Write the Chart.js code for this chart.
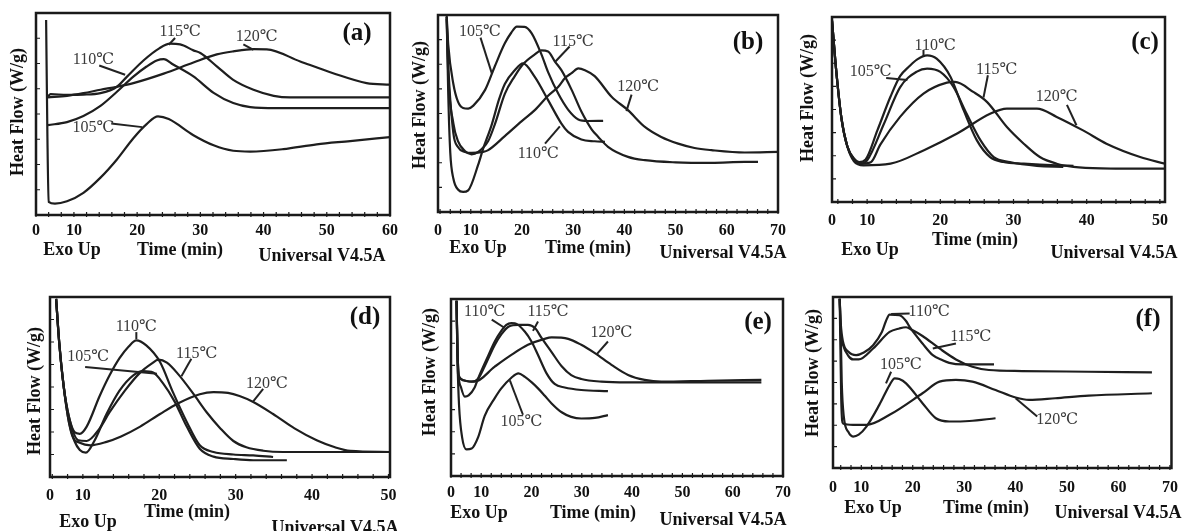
<!DOCTYPE html>
<html><head><meta charset="utf-8">
<script src="https://cdn.jsdelivr.net/npm/chart.js@4.4.1/dist/chart.umd.min.js"></script>
<style>
html,body{margin:0;padding:0;background:#fff;}
#wrap{position:relative;width:1188px;height:531px;overflow:hidden;background:#fff;}
#wrap canvas{position:absolute;left:0;top:0;}
</style></head><body><div id="wrap"></div>
<script>
// ---------- tick labels ----------
const ticks50 = [0,10,20,30,40,50];
const ticks60 = [0,10,20,30,40,50,60];
const ticks70 = [0,10,20,30,40,50,60,70];
const temps = ['105℃','110℃','115℃','120℃'];

// ---------- panel (a) ----------
const a105 = [[5.6,96.5],[5.8,40],[6.0,6.5],[7.0,5.6],[8.9,6.8],[11.5,11],[14.2,18.5],[16.8,27.5],[19.4,38],[21.5,45],[23.3,48.8],[25.0,47.5],[28.9,39.5],[32.1,34.5],[35.2,31.8],[37.9,31.4],[43.1,32.6],[48.4,35],[53.7,36.6],[60,38.6]];
const a110 = [[5.9,44.5],[8.9,46],[11.5,49],[14.2,54],[16.8,61],[19.4,68.5],[21.5,73.5],[23.1,76.5],[24.2,77.2],[25.7,74.5],[28.9,68.6],[32.1,60.5],[35.2,55.4],[37.9,53.4],[42,52.9],[60,52.9]];
const a115 = [[5.9,58.7],[6.3,59.8],[8.9,59.5],[11.5,59.6],[14.2,60.3],[16.8,63.5],[18.4,68.5],[21.0,76.5],[23.5,82.5],[25.2,84.8],[26.8,84.5],[28.9,81.5],[30.0,80.2],[32.6,73.6],[35.2,66.9],[38.4,62.0],[41.6,59.0],[44.2,58.2],[60,58.2]];
const a120 = [[5.9,58.2],[8.9,59],[11.5,60.3],[14.2,62.0],[16.8,63.5],[19.4,65.3],[24.2,70],[28.9,75.5],[32.6,79.5],[35.2,81.0],[38.4,82.1],[40.5,82.0],[45.8,76.0],[51.0,70.2],[56.3,65.3],[60,64.5]];
const aNotes = [[temps[2],26.8,90.9,26.0,87.6,25.0,84.3],[temps[3],38.9,88.4,36.8,84.5,38.4,81.8],[temps[1],13.1,76.9,14.0,74.0,18.1,69.4],[temps[0],13.1,43.0,15.9,45.3,20.8,43.5]];

// ---------- panel (b) ----------
const b105 = [[5.3,99.5],[5.6,85],[6.6,65],[7.5,56],[8.5,52.8],[9.5,52.5],[10.5,54],[12.8,62],[14.7,74],[16.65,85.6],[17.9,91],[19.0,94.1],[20.5,94],[21.9,90.7],[23.8,80],[25.1,71],[27.1,60],[29.0,52],[31.0,47],[32.9,46.2],[35.85,46.3]];
const b110 = [[5.3,99],[5.6,60],[6.0,30],[6.6,17],[7.55,11.3],[8.5,10.2],[9.5,11],[11.45,24],[12.4,32],[14.05,44],[15.5,57],[16.65,65],[18.6,72],[20.2,75.4],[22.5,68.6],[25.1,56.8],[27.7,44.9],[29.0,40.7],[31.6,36.8],[34.2,35.9],[36.2,35.6]];
const b115 = [[5.3,98],[5.6,70],[6.6,45],[7.5,36],[8.85,31],[10.15,29.3],[11.45,30.5],[13.4,36],[14.7,44.5],[16.65,60],[18.6,69],[20.2,75],[22.5,80],[23.8,82],[25.1,81.5],[26.4,76.5],[27.7,72],[29.7,62],[31.6,51],[33.6,42],[34.9,38.1],[36.8,33.1],[40.7,28.0],[44.0,26.3],[50,25.2],[57,24.9],[63.5,25.4],[66.1,25.4]];
const b120 = [[5.3,99],[5.6,75],[6.6,40],[7.5,33],[8.85,30.5],[10.15,30],[12.4,30.5],[13.4,31.4],[16.65,38.5],[19.9,46],[22.5,51.7],[25.1,59],[27.1,63.6],[28.4,68],[29.7,70.5],[31.0,72.9],[32.3,72],[34.2,69],[37.5,58.5],[40.7,51.7],[44.0,43.2],[47.2,38.1],[50.5,34.7],[53.7,32.5],[57.0,31.4],[63.5,30.2],[70,30.5]];
const bNotes = [[temps[0],11.8,91.5,11.9,88.5,14.1,70.5],[temps[2],30.0,86.4,29.3,84.0,26.4,76.0],[temps[3],42.7,63.6,41.4,59.6,40.4,51.2],[temps[1],23.2,29.7,24.5,34.7,27.4,43.5]];

// ---------- panel (c) ----------
const c105 = [[5.2,98],[5.8,70],[6.5,45],[7.3,30],[8.2,23],[9.1,20.7],[10.0,22.5],[12.3,42.3],[14.5,62],[16.8,70.5],[18.2,72.1],[20.0,70.3],[21.8,62.2],[23.6,47.7],[25.5,33.3],[27.3,24.3],[29.5,21.6],[33.2,19.5],[36.8,19.0]];
const c110 = [[5.2,98],[5.8,70],[6.5,45],[7.3,30],[8.2,23.5],[8.9,21.6],[9.8,23],[11.4,38.7],[13.2,57],[14.5,68],[15.8,73.5],[16.8,77],[18.2,79.3],[19.5,77.5],[21.4,67.6],[23.2,49.5],[25.0,33.3],[26.8,24.3],[28.6,21.6],[31.4,20.7],[35.9,19.8],[38.2,19.6]];
const c115 = [[5.2,98],[5.8,70],[6.5,45],[7.3,30],[8.2,23],[9.1,20.7],[10.5,21.5],[11.8,31],[14.5,46],[17.7,58.6],[20.9,64.5],[22.0,64.9],[24.5,59.5],[26.4,54],[29.1,40.5],[31.4,31.5],[33.6,24.3],[35.9,20.7],[38.2,19.0],[42,18.2],[50.7,18.0]];
const c120 = [[5.2,98],[5.8,70],[6.5,45],[7.3,30],[8.2,22],[9.5,19.8],[13.2,20.7],[17.7,27.9],[22.3,37],[26.8,47.7],[29.1,50.5],[33.2,50.5],[35.9,46.0],[39.5,38.7],[42.7,31.5],[47.3,24.3],[50.7,20.7]];
const cNotes = [[temps[1],19.3,84.7,17.7,82.2,17.7,79.0],[temps[0],10.5,70.3,12.6,67.0,15.5,66.0],[temps[2],27.7,71.2,26.5,68.5,25.9,56.5],[temps[3],35.9,56.8,37.3,52.5,38.6,41.5]];

// ---------- panel (d) ----------
const d105 = [[6.5,99],[6.9,75],[7.5,50],[8.2,30],[8.9,20],[9.6,15],[10.4,13.5],[11.5,20],[13.1,35],[14.8,48],[16.6,56.5],[17.9,58.8],[19.2,58],[20.5,52],[22.0,42],[23.6,28],[25.3,15.7],[27.1,11.3],[29.7,10],[32.3,9.3],[36.7,9.3]];
const d110 = [[6.5,99],[6.9,75],[7.5,50],[8.2,33],[8.9,25],[9.6,24],[10.5,28],[12.2,45],[13.5,56.5],[14.8,66],[16.0,72.5],[17.0,75.9],[18.3,73.1],[20.1,63.9],[21.8,47],[23.6,30.6],[25.3,17.6],[27.1,13.9],[29.7,12.5],[32.3,12.0],[34.9,11.1]];
const d115 = [[6.5,99],[6.9,75],[7.5,50],[8.2,33],[9.4,20.4],[10.5,20],[12.2,27],[13.5,36],[15.5,48],[17.5,58],[19.0,63],[19.9,65.2],[21.0,63.5],[22.5,57],[24.5,46],[26.2,36],[28.0,27],[29.7,20],[31.4,16.5],[33.6,14.6],[36.2,13.9],[40.6,13.9],[50.2,13.9]];
const d120 = [[6.5,99],[6.9,75],[7.5,50],[8.2,30],[8.7,22],[9.6,19],[11.0,17.6],[13.1,19.5],[15.0,22.5],[17.5,28],[20.1,35],[22.5,41],[25.3,46],[27.1,47.2],[29.0,46.7],[30.5,45],[32.3,41.7],[34.9,35],[37.7,27],[40.6,20.4],[43.0,16.5],[45.0,14.5],[50.2,13.9]];
const dNotes = [[temps[1],17.0,83.3,17.0,80.5,17.0,76.6],[temps[0],10.7,66.7,10.3,61.1,19.7,57.4],[temps[2],24.9,68.5,24.2,65.7,22.9,56.0],[temps[3],34.1,51.9,33.6,49.0,32.3,42.0]];

// ---------- panel (e) ----------
const e105 = [[5.1,99],[5.3,65],[5.6,40],[6.2,22],[7.1,15],[8.1,15.5],[9.4,22],[10.7,34],[12.7,44],[14.0,49.5],[16.0,55.5],[17.4,58],[18.7,56],[20.0,53],[21.3,49.5],[22.6,45.5],[24.0,41],[26.0,36],[27.9,33.4],[29.9,32.5],[32.6,32.8],[35.2,34.4]];
const e110 = [[5.1,99],[5.3,70],[5.5,57],[6.0,50],[6.75,44.8],[7.5,45.5],[8.7,50],[9.4,55.2],[11.4,68],[12.7,76],[14.0,82],[15.0,85.4],[16.0,86.4],[16.7,86.3],[18.7,81.5],[20.0,76],[21.3,68.4],[23.0,58],[24.6,52],[26.6,50],[29.9,48.6],[35.2,48.0]];
const e115 = [[5.1,99],[5.3,70],[5.6,56.5],[6.5,54],[8.1,53.3],[9.4,55],[10.7,62],[12.7,74],[14.0,80],[15.5,84.5],[17.4,85.4],[19.3,85.4],[20.7,83.6],[22.0,78],[24.0,70],[26.0,62],[27.9,57],[29.9,54.8],[33.9,53.3],[39.2,52.9],[45.8,52.9],[65.7,52.9]];
const e120 = [[5.1,99],[5.4,56.1],[8.7,53.3],[12.7,61.8],[16.0,68.4],[19.3,74.1],[22.6,77.5],[24.0,78.3],[27.3,77.5],[29.9,74.1],[32.6,69.4],[35.9,62.8],[39.2,57.1],[42.5,54.3],[45.8,53.3],[55,53.8],[65.7,54.3]];
const eNotes = [[temps[1],10.7,93.0,12.1,88.3,14.7,83.6],[temps[2],23.3,93.0,21.3,87.3,20.3,82.0],[temps[3],35.9,80.7,35.2,76.0,32.9,68.6],[temps[0],18.0,30.6,18.3,34.6,15.7,54.0]];

// ---------- panel (f) ----------
const f105 = [[5.8,99],[6.0,80],[6.2,50],[6.6,30],[7.5,21],[8.4,18.4],[9.5,19.5],[11.0,24.2],[13.5,36.9],[15.5,48.5],[16.5,52.4],[17.4,52],[18.7,49.5],[21.9,37.9],[24.5,29.1],[27.1,27.2],[31.0,27.5],[36.1,29.1]];
const f110 = [[5.8,99],[6.0,85],[6.45,73.8],[7.5,68],[9.0,66.0],[10.5,67.5],[12.3,71.8],[14.0,79.5],[14.8,86],[15.5,89.7],[17.4,89.3],[18.7,86],[19.4,82.5],[21.9,72.8],[23.9,66],[25.8,63],[27.1,61.5],[29.7,60.6],[35.8,60.6]];
const f115 = [[5.8,99],[6.0,80],[6.45,72],[7.5,65.5],[8.4,63.5],[9.5,63.5],[12.3,69.9],[15.5,79.6],[17.4,81.6],[18.7,82.3],[20.0,80.5],[21.9,77.2],[25.2,69.9],[28.4,63.5],[31.6,59.2],[34.8,57.3],[41.3,56.7],[54.2,56.3],[66.5,55.9]];
const f120 = [[5.8,99],[6.1,40],[6.45,26],[8.4,25.2],[11.0,25.2],[15.5,31.1],[21.9,43.7],[25.2,50.5],[28.4,51.5],[31.6,50.5],[36.1,45.6],[40.0,41.2],[42.6,39.8],[47.7,40.8],[54.2,42.3],[66.5,43.7]];
const fNotes = [[temps[1],23.2,91.3,19.4,90.3,15.8,90.0],[temps[2],31.3,76.7,28.4,72.8,23.9,69.9],[temps[0],17.7,60.2,15.8,56.3,14.8,49.5],[temps[3],48.1,28.2,44.2,30.1,40.0,40.8]];

// ---------- texts ----------
const TXT_EXO = 'Exo Up', TXT_TIME = 'Time (min)', TXT_UNIV = 'Universal V4.5A', TXT_Y = 'Heat Flow (W/g)';
const SERIF = '"Liberation Serif","Times New Roman","DejaVu Serif",serif';

// layout (page pixel positions)
const panels = [
  {letter:'(a)', frame:[36,13,390,215], xMin:4.0, xMax:60, ticks:ticks60, pad:6, series:[a105,a110,a115,a120], notes:aNotes,
   pos:{letter:[357,34], exo:[72,250], time:[180,250], univ:[322,256], y:[18,112]}},
  {letter:'(b)', frame:[438,15,778,212], xMin:3.6, xMax:70, ticks:ticks70, pad:9, series:[b105,b110,b115,b120], notes:bNotes,
   pos:{letter:[748,43], exo:[478,248], time:[588,248], univ:[723,253], y:[420,105]}},
  {letter:'(c)', frame:[832,17,1165,202], xMin:5.2, xMax:50.7, ticks:ticks50, pad:9, series:[c105,c110,c115,c120], notes:cNotes,
   pos:{letter:[1145,43], exo:[870,250], time:[975,240], univ:[1114,253], y:[808,98]}},
  {letter:'(d)', frame:[50,297,390,477], xMin:5.7, xMax:50.2, ticks:ticks50, pad:9, series:[d105,d110,d115,d120], notes:dNotes,
   pos:{letter:[365,318], exo:[88,522], time:[187,512], univ:[335,528], y:[35,391]}},
  {letter:'(e)', frame:[451,299,783,476], xMin:4.0, xMax:70, ticks:ticks70, pad:7, series:[e105,e110,e115,e120], notes:eNotes,
   pos:{letter:[758,323], exo:[479,513], time:[593,513], univ:[723,520], y:[430,372]}},
  {letter:'(f)', frame:[833,297,1173,468], xMin:4.5, xMax:70.3, ticks:ticks70, pad:10, series:[f105,f110,f115,f120], notes:fNotes,
   pos:{letter:[1148,320], exo:[873,508], time:[986,508], univ:[1118,513], y:[813,373]}}
];

const W = 1188, H = 531, XH = 30;
const wrap = document.getElementById('wrap');

panels.forEach(p => {
  const cv = document.createElement('canvas');
  cv.width = W; cv.height = H;
  cv.style.width = W + 'px'; cv.style.height = H + 'px';
  wrap.appendChild(cv);
  const [fl, ft, fr, fb] = p.frame;
  const deco = {
    id: 'deco',
    afterDraw(chart) {
      const ctx = chart.ctx, a = chart.chartArea, xs = chart.scales.x, ys = chart.scales.y;
      ctx.save();
      // frame
      ctx.strokeStyle = '#1a1a1a'; ctx.lineWidth = 2.5;
      ctx.strokeRect(a.left, a.top, a.right - a.left, a.bottom - a.top);
      // minor ticks
      ctx.lineWidth = 1.2; ctx.beginPath();
      for (let v = Math.ceil(p.xMin / 2) * 2; v <= p.xMax; v += 2) {
        const x = xs.getPixelForValue(v); ctx.moveTo(x, a.bottom + 2); ctx.lineTo(x, a.bottom - 3);
      }
      for (let v = 12.5; v < 100; v += 12.5) {
        const y = ys.getPixelForValue(v); ctx.moveTo(a.left, y); ctx.lineTo(a.left + 4, y);
      }
      ctx.stroke();
      // temperature labels with leaders
      ctx.strokeStyle = '#222'; ctx.lineWidth = 2;
      ctx.fillStyle = '#3a3a3a';
      ctx.font = '16px ' + SERIF; ctx.textAlign = 'center'; ctx.textBaseline = 'middle';
      p.notes.forEach(n => {
        ctx.beginPath();
        ctx.moveTo(xs.getPixelForValue(n[3]), ys.getPixelForValue(n[4]));
        ctx.lineTo(xs.getPixelForValue(n[5]), ys.getPixelForValue(n[6]));
        ctx.stroke();
        ctx.fillText(n[0], xs.getPixelForValue(n[1]), ys.getPixelForValue(n[2]));
      });
      // static texts
      ctx.fillStyle = '#111';
      ctx.font = 'bold 25px ' + SERIF;
      ctx.fillText(p.letter, p.pos.letter[0], p.pos.letter[1]);
      ctx.font = 'bold 18px ' + SERIF;
      ctx.fillText(TXT_EXO, p.pos.exo[0], p.pos.exo[1]);
      ctx.fillText(TXT_TIME, p.pos.time[0], p.pos.time[1]);
      ctx.fillText(TXT_UNIV, p.pos.univ[0], p.pos.univ[1]);
      ctx.translate(p.pos.y[0], p.pos.y[1]); ctx.rotate(-Math.PI / 2);
      ctx.fillText(TXT_Y, 0, 0);
      ctx.restore();
    }
  };
  new Chart(cv, {
    type: 'scatter',
    data: {
      datasets: p.series.map((s, i) => ({
        label: temps[i],
        data: s.map(q => ({x: q[0], y: q[1]})),
        showLine: true, borderColor: '#1e1e1e', borderWidth: 2.2,
        pointRadius: 0, pointHoverRadius: 0, fill: false,
        cubicInterpolationMode: 'monotone'
      }))
    },
    options: {
      responsive: false, animation: false, events: [],
      layout: {padding: {left: fl, top: ft, right: W - fr, bottom: H - fb - XH}},
      plugins: {legend: {display: false}, tooltip: {enabled: false}},
      scales: {
        x: {
          type: 'linear', min: p.xMin, max: p.xMax,
          grid: {display: false, drawTicks: false}, border: {display: false},
          afterFit: s => { s.height = XH; },
          afterBuildTicks: s => { s.ticks = p.ticks.map(v => ({value: v === 0 ? p.xMin : v})); },
          ticks: {autoSkip: false, maxRotation: 0, minRotation: 0, padding: p.pad, color: '#111',
                  font: {family: SERIF, size: 16, weight: 'bold'},
                  callback: (v, i) => String(p.ticks[i])}
        },
        y: {display: false, min: 0, max: 100}
      }
    },
    plugins: [deco]
  });
});
</script>
</body></html>
